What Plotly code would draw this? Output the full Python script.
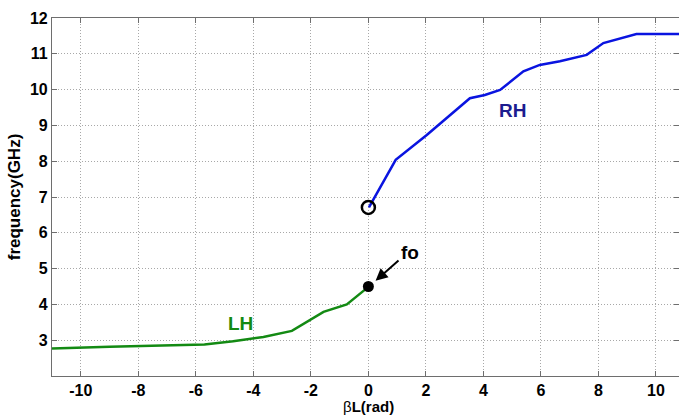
import plotly.graph_objects as go

# Data
rh_beta = [0.02, 0.95, 2.03, 3.53, 4.05, 4.58, 5.39, 5.96, 6.66, 7.59, 8.17, 9.32, 10.8]
rh_freq = [6.71, 8.04, 8.73, 9.76, 9.85, 9.99, 10.51, 10.69, 10.79, 10.97, 11.30, 11.55, 11.55]

lh_beta = [-11.0, -9.0, -5.7, -4.7, -3.65, -2.66, -1.56, -0.75, 0.0]
lh_freq = [2.77, 2.82, 2.88, 2.97, 3.09, 3.26, 3.79, 4.00, 4.49]

open_pt = (0.0, 6.71)
fo_pt = (0.0, 4.50)

x_ticks = [-10, -8, -6, -4, -2, 0, 2, 4, 6, 8, 10]
y_ticks = [3, 4, 5, 6, 7, 8, 9, 10, 11, 12]

FONT = "Liberation Sans, Arial"

fig = go.Figure()
fig.add_trace(go.Scatter(x=rh_beta, y=rh_freq, mode="lines",
                         line=dict(color="#0a14e0", width=2.5), showlegend=False))
fig.add_trace(go.Scatter(x=lh_beta, y=lh_freq, mode="lines",
                         line=dict(color="#138a13", width=2.5), showlegend=False))
fig.add_trace(go.Scatter(x=[open_pt[0]], y=[open_pt[1]], mode="markers",
                         marker=dict(symbol="circle-open", size=13, color="black",
                                     line=dict(width=2.5, color="black")),
                         showlegend=False))
fig.add_trace(go.Scatter(x=[fo_pt[0]], y=[fo_pt[1]], mode="markers",
                         marker=dict(symbol="circle", size=11, color="black"),
                         showlegend=False))

fig.add_annotation(x=5.0, y=9.43, text="<b>RH</b>", showarrow=False,
                   font=dict(size=19, color="#1c1c8f", family=FONT))
fig.add_annotation(x=-4.46, y=3.48, text="<b>LH</b>", showarrow=False,
                   font=dict(size=19, color="#138a13", family=FONT))
fig.add_annotation(x=1.45, y=5.44, text="<b>fo</b>", showarrow=False,
                   font=dict(size=19, color="black", family=FONT))
fig.add_annotation(x=0.25, y=4.66, ax=1.1, ay=5.26, xref="x", yref="y",
                   axref="x", ayref="y", text="", showarrow=True,
                   arrowhead=2, arrowsize=1.2, arrowwidth=2, arrowcolor="black")

# x-axis title placed just under the tick labels, fully inside the page
fig.add_annotation(x=0, xref="x", y=0, yref="paper", yanchor="bottom", yshift=-40,
                   text="<span style='font-weight:normal'>β</span><b>L(rad)</b>",
                   showarrow=False, font=dict(size=15, color="black", family=FONT),
                   borderpad=0)

axis_common = dict(showgrid=True, gridcolor="#a8a8a8", griddash="1px,2px", gridwidth=1,
                   showline=True, linecolor="#6e6e6e", linewidth=1.2, mirror="ticks",
                   ticks="inside", ticklen=5, tickcolor="#6e6e6e", zeroline=False,
                   tickfont=dict(size=16, color="black", family=FONT))

fig.update_xaxes(range=[-11, 10.8], tickvals=x_ticks,
                 ticktext=[f"<b>{v}</b>" for v in x_ticks],
                 ticklabelstandoff=0,
                 **axis_common)
fig.update_yaxes(range=[2, 12], tickvals=y_ticks,
                 ticktext=[f"<b>{v}</b>" for v in y_ticks],
                 title=dict(text="<b>frequency(GHz)</b>",
                            font=dict(size=17, color="black", family=FONT),
                            standoff=4),
                 **axis_common)

fig.update_layout(width=679, height=416, margin=dict(l=52, r=0, t=18, b=40),
                  plot_bgcolor="white", paper_bgcolor="white",
                  font=dict(family=FONT, color="black"))

fig.write_html("out.html")
